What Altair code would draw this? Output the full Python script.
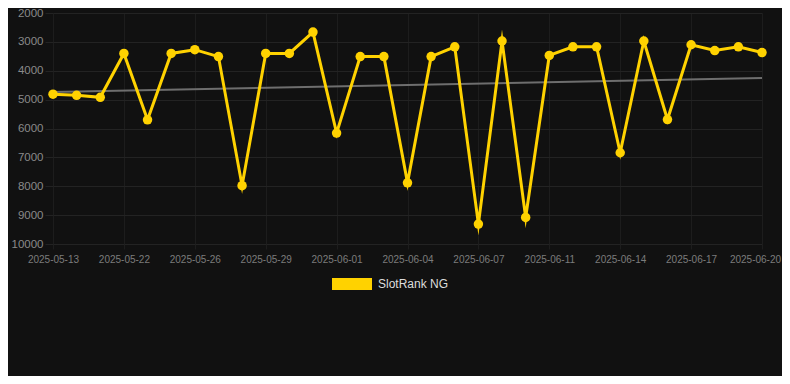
import altair as alt
import pandas as pd

# ---- data ----
dates = [
    "2025-05-13", "2025-05-16", "2025-05-19", "2025-05-22", "2025-05-23", "2025-05-24",
    "2025-05-26", "2025-05-27", "2025-05-28", "2025-05-29", "2025-05-30", "2025-05-31",
    "2025-06-01", "2025-06-02", "2025-06-03", "2025-06-04", "2025-06-05", "2025-06-06",
    "2025-06-07", "2025-06-09", "2025-06-10", "2025-06-11", "2025-06-12", "2025-06-13",
    "2025-06-14", "2025-06-15", "2025-06-16", "2025-06-17", "2025-06-18", "2025-06-19",
    "2025-06-20",
]
ranks = [
    4810, 4850, 4920, 3400, 5700, 3400,
    3270, 3510, 7980, 3400, 3400, 2660,
    6160, 3510, 3510, 7880, 3510, 3170,
    9310, 2970, 9080, 3470, 3170, 3170,
    6840, 2970, 5690, 3100, 3300, 3170,
    3370,
]
series_name = "SlotRank NG"
tick_dates = [
    "2025-05-13", "2025-05-22", "2025-05-26", "2025-05-29", "2025-06-01", "2025-06-04",
    "2025-06-07", "2025-06-11", "2025-06-14", "2025-06-17", "2025-06-20",
]
y_ticks = [2000, 3000, 4000, 5000, 6000, 7000, 8000, 9000, 10000]
trend_dates = ["2025-05-13", "2025-06-20"]
trend_values = [4740, 4250]

df = pd.DataFrame({"date": dates, "rank": ranks, "series": series_name})
trend_df = pd.DataFrame({"date": trend_dates, "rank": trend_values})

GOLD = "#FFD200"
BG = "#111111"
GRID = "#232323"
FONT = "Helvetica Neue, Helvetica, Arial, sans-serif"

x_enc = alt.X(
    "date:O",
    sort=dates,
    scale=alt.Scale(type="point", domain=dates, range=[0, 709], padding=0),
    axis=alt.Axis(
        title=None, values=tick_dates, labelAngle=0, domain=False,
        tickSize=5, tickColor="#1d1d1d", gridColor="#1d1d1d", grid=True,
        labelFontSize=10, labelColor="#7c7c7c", labelPadding=5, labelFont=FONT,
        labelOffset={"condition": {"test": f"datum.value === '{tick_dates[-1]}'", "value": -7}, "value": 0},
    ),
)
y_enc = alt.Y(
    "rank:Q",
    scale=alt.Scale(domain=[2000, 10000], reverse=True, nice=False, zero=False),
    axis=alt.Axis(
        title=None, values=y_ticks, format="d", domain=False,
        tickSize=8, tickColor=GRID, gridColor=GRID, grid=True,
        labelFontSize=11.5, labelColor="#8a8a8a", labelPadding=2, labelFont=FONT,
    ),
)

base = alt.Chart(df)

trend = alt.Chart(trend_df).mark_line(color="#6e6e6e", strokeWidth=2).encode(x=x_enc, y=y_enc)

line = base.mark_line(color=GOLD, strokeWidth=3, strokeMiterLimit=10).encode(x=x_enc, y=y_enc)

points = base.mark_point(filled=True, size=90, opacity=1).encode(
    x=x_enc,
    y=y_enc,
    color=alt.Color(
        "series:N",
        scale=alt.Scale(domain=[series_name], range=[GOLD]),
        legend=alt.Legend(
            title=None, orient="none", legendX=279, legendY=251,
            symbolType="M-1,-0.3H1V0.3H-1Z", symbolSize=1600,
            symbolOpacity=1, symbolStrokeWidth=0,
            labelFontSize=12, labelColor="#dddddd", labelOffset=6,
            labelFont=FONT, padding=0,
        ),
    ),
)

chart = (
    alt.layer(trend, line, points)
    .properties(
        width=729, height=231, autosize="none",
        padding={"left": 45, "top": 5, "right": 0, "bottom": 132},
        background=BG,
    )
    .configure_view(stroke=None)
)

chart.save("out.html", embed_options={"renderer": "svg", "actions": False})
